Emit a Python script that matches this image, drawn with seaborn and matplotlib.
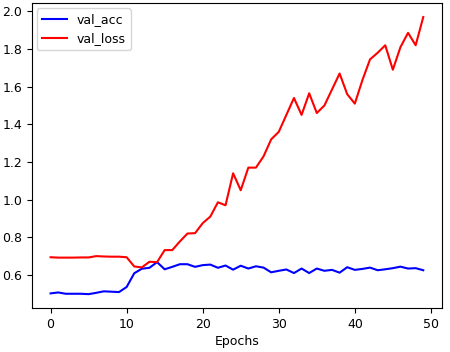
import numpy as np
import pandas as pd
import seaborn as sns
import matplotlib.pyplot as plt

# validation history
epochs = list(range(50))

val_acc = [
    0.502, 0.507, 0.500, 0.500, 0.500, 0.498, 0.505, 0.513, 0.511, 0.509,
    0.536, 0.609, 0.633, 0.638, 0.668, 0.630, 0.643, 0.657, 0.657, 0.643,
    0.652, 0.655, 0.638, 0.650, 0.628, 0.649, 0.634, 0.646, 0.639, 0.614,
    0.622, 0.629, 0.610, 0.634, 0.610, 0.634, 0.622, 0.627, 0.612, 0.641,
    0.627, 0.632, 0.639, 0.625, 0.630, 0.636, 0.644, 0.634, 0.636, 0.625,
]

val_loss = [
    0.694, 0.692, 0.692, 0.692, 0.693, 0.693, 0.700, 0.698, 0.697, 0.697,
    0.694, 0.645, 0.640, 0.670, 0.668, 0.732, 0.732, 0.778, 0.820, 0.822,
    0.875, 0.910, 0.986, 0.970, 1.140, 1.050, 1.170, 1.170, 1.230, 1.320,
    1.360, 1.450, 1.540, 1.450, 1.565, 1.460, 1.500, 1.585, 1.670, 1.560,
    1.510, 1.635, 1.745, 1.780, 1.820, 1.690, 1.810, 1.886, 1.820, 1.970,
]

df = pd.DataFrame({'Epochs': epochs, 'val_acc': val_acc, 'val_loss': val_loss})

plt.rcParams['font.size'] = 9

fig, ax = plt.subplots(figsize=(4.5, 3.52), dpi=100)
sns.lineplot(data=df, x='Epochs', y='val_acc', color='blue', label='val_acc', ax=ax)
sns.lineplot(data=df, x='Epochs', y='val_loss', color='red', label='val_loss', ax=ax)
ax.set_ylabel('')
ax.set_xlabel('Epochs', labelpad=3)
ax.legend(loc='upper left', borderaxespad=0.4)

fig.subplots_adjust(left=0.071, right=0.982, bottom=0.125, top=0.991)
plt.savefig('out.png', dpi=100)
